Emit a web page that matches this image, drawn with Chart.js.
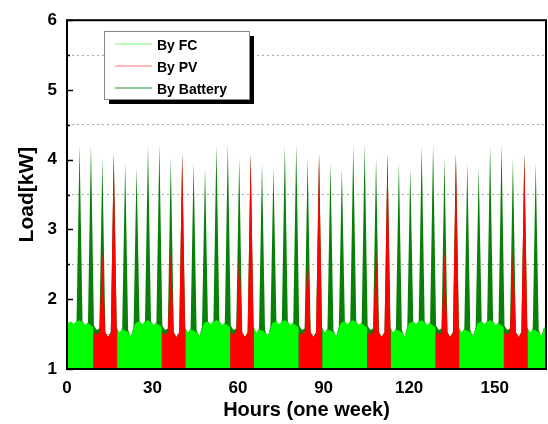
<!DOCTYPE html>
<html>
<head>
<meta charset="utf-8">
<script src="https://cdn.jsdelivr.net/npm/chart.js@4.4.1/dist/chart.umd.min.js"></script>
<style>
  html, body { margin: 0; padding: 0; background: #fff; }
</style>
</head>
<body>
<canvas id="chart" width="548" height="424"></canvas>
<script>
// Axis ticks
const xTicks = [0, 30, 60, 90, 120, 150];
const yTicks = [1, 2, 3, 4, 5, 6];
const seriesNames = ['By FC', 'By PV', 'By Battery'];

// The daily profile repeats over the week
const dayStarts = [0, 24, 48, 72, 96, 120, 144];

// FC output over one day (off while PV runs)
const fcHours = [0, 1.45, 2.4, 3.35, 4.4, 5.45, 6.4, 7.35, 8.4, 9.2, 9.2, 17.6, 17.6, 18.4, 19.35, 20.4, 21.45, 22.4, 23.35, 24];
const fcLoad  = [1.66, 1.68, 1.64, 1.68, 1.70, 1.67, 1.63, 1.66, 1.62, 1.60, 1, 1, 1.58, 1.52, 1.57, 1.55, 1.53, 1.47, 1.58, 1.66];

// PV output over one day
const pvHours = [9.2, 9.2, 9.6, 10.4, 11.35, 13.45, 14.4, 15.35, 17.45, 17.6, 17.6];
const pvLoad  = [1, 1.53, 1.52, 1.49, 1.53, 1.52, 1.46, 1.52, 1.55, 1.56, 1];

// Total demand between the peaks (battery covers the rest)
const baseHours = [1.45, 2.4, 3.35, 5.45, 6.4, 7.35, 9.45, 10.4, 11.35, 13.45, 14.4, 15.35, 17.45, 18.4, 19.35, 21.45, 22.4, 23.35];
const baseLoad  = [1.68, 1.62, 1.69, 1.68, 1.62, 1.67, 1.62, 1.56, 1.58, 1.53, 1.46, 1.53, 1.60, 1.51, 1.58, 1.56, 1.46, 1.61];

// Load peaks over the week
const peakHours = [4.4, 8.4, 12.4, 16.4, 20.4, 24.4, 28.4, 32.4, 36.4, 40.4, 44.4, 48.4,
                   52.4, 56.4, 60.4, 64.4, 68.4, 72.4, 76.4, 80.4, 84.4, 88.4, 92.4, 96.4,
                   100.4, 104.4, 108.4, 112.4, 116.4, 120.4, 124.4, 128.4, 132.4, 136.4, 140.4, 144.4,
                   148.4, 152.4, 156.4, 160.4, 164.4];
const peakLoad  = [4.21, 4.22, 4.03, 4.09, 3.96, 3.89, 4.21, 4.22, 4.03, 4.09, 3.96, 3.89,
                   4.21, 4.22, 4.03, 4.09, 3.96, 3.89, 4.21, 4.22, 4.03, 4.09, 3.96, 3.89,
                   4.21, 4.22, 4.03, 4.09, 3.96, 3.89, 4.21, 4.22, 4.03, 4.09, 3.96, 3.89,
                   4.21, 4.22, 4.03, 4.09, 3.96];
// part of each peak supplied by PV
const peakPV    = [null, null, 2.70, 4.09, null, null, null, null, 2.70, 4.09, null, null,
                   null, null, 2.70, 4.09, null, null, null, null, 2.70, 4.09, null, null,
                   null, null, 2.70, 4.09, null, null, null, null, 2.70, 4.09, null, null,
                   null, null, 2.70, 4.09, null];

const fillColors = ['#00ff00', '#ff0000', '#088008'];
const legendColors = ['#a4ffa4', '#ffa0a0', '#6cb46c'];

// build point lists
const byX = (a, b) => a.x - b.x;
const fcData = [], pvData = [], totalData = [];
dayStarts.forEach(d => {
    fcHours.forEach((h, i) => fcData.push({ x: d + h, y: fcLoad[i] }));
    pvHours.forEach((h, i) => pvData.push({ x: d + h, y: pvLoad[i] }));
    baseHours.forEach((h, i) => totalData.push({ x: d + h, y: baseLoad[i] }));
});
peakHours.forEach((h, i) => {
    totalData.push({ x: h, y: peakLoad[i] });
    if (peakPV[i] !== null) pvData.push({ x: h, y: peakPV[i] });
});
pvData.sort(byX);
totalData.sort(byX);

// frame + inward tick marks on the y axis
const frameAndTicks = {
    id: 'frameAndTicks',
    beforeDatasetsDraw(chart) {
        const { ctx, chartArea, scales } = chart;
        ctx.save();
        ctx.strokeStyle = '#000';
        ctx.lineWidth = 1.5;
        scales.y.ticks.forEach(t => {
            const py = Math.round(scales.y.getPixelForValue(t.value)) + 0.5;
            const len = yTicks.includes(t.value) ? 6 : 3;
            ctx.beginPath();
            ctx.moveTo(chartArea.left, py);
            ctx.lineTo(chartArea.left + len, py);
            ctx.stroke();
        });
        ctx.restore();
    },
    afterDatasetsDraw(chart) {
        const { ctx, chartArea } = chart;
        ctx.save();
        ctx.strokeStyle = '#000';
        ctx.lineWidth = 2;
        ctx.strokeRect(chartArea.left, chartArea.top, chartArea.right - chartArea.left, chartArea.bottom - chartArea.top);
        ctx.restore();
    }
};

// boxed legend with a drop shadow, inside the plot
const legendBox = {
    id: 'legendBox',
    afterDraw(chart) {
        const ctx = chart.ctx;
        const x = 104, y = 31, w = 145, h = 68;
        ctx.save();
        ctx.fillStyle = '#000';
        ctx.fillRect(x + 5, y + 5, w, h);
        ctx.fillStyle = '#fff';
        ctx.fillRect(x, y, w, h);
        ctx.strokeStyle = '#8a8a8a';
        ctx.lineWidth = 1;
        ctx.strokeRect(x + 0.5, y + 0.5, w, h);
        ctx.font = 'bold 14px "Liberation Sans", Arial, sans-serif';
        ctx.textBaseline = 'alphabetic';
        chart.data.datasets.forEach((ds, i) => {
            const ry = 44 + i * 22;
            ctx.strokeStyle = legendColors[i];
            ctx.lineWidth = 1.5;
            ctx.beginPath();
            ctx.moveTo(115, ry);
            ctx.lineTo(152, ry);
            ctx.stroke();
            ctx.fillStyle = '#000';
            ctx.fillText(ds.label, 157, ry + 5.5);
        });
        ctx.restore();
    }
};

Chart.defaults.font.family = '"Liberation Sans", Arial, sans-serif';

new Chart(document.getElementById('chart'), {
    type: 'line',
    data: {
        datasets: [
            { label: seriesNames[0], data: fcData },
            { label: seriesNames[1], data: pvData },
            { label: seriesNames[2], data: totalData }
        ].map((ds, i) => ({
            ...ds,
            backgroundColor: fillColors[i],
            borderColor: 'rgba(0,0,0,0)',
            borderWidth: 0,
            fill: 'origin',
            pointRadius: 0,
            tension: 0
        }))
    },
    options: {
        responsive: false,
        animation: false,
        layout: { padding: { top: 19, right: 2, left: 0, bottom: 0 } },
        plugins: { legend: { display: false }, tooltip: { enabled: false } },
        scales: {
            x: {
                type: 'linear', min: 0, max: 168,
                afterFit: s => { s.height = 55; },
                ticks: {
                    stepSize: 30, includeBounds: false, padding: 9, maxRotation: 0,
                    color: '#000', font: { size: 17, weight: 'bold' },
                    callback: v => xTicks.includes(v) ? v : ''
                },
                grid: { display: false, drawTicks: false },
                border: { display: false },
                title: {
                    display: true, text: 'Hours (one week)', color: '#000',
                    font: { size: 20, weight: 'bold' }, padding: { top: 0, bottom: 2 }
                }
            },
            y: {
                min: 1, max: 6,
                afterFit: s => { s.width = 67; },
                ticks: {
                    stepSize: 0.5, padding: 10, autoSkip: false,
                    color: '#000', font: { size: 17, weight: 'bold' },
                    callback: v => yTicks.includes(v) ? v : ''
                },
                grid: {
                    drawTicks: false, lineWidth: 1, borderDash: [2, 3],
                    color: c => (c.tick && !yTicks.includes(c.tick.value)) ? '#a8a8a8' : 'rgba(0,0,0,0)'
                },
                border: { display: false, dash: [2, 3] },
                title: {
                    display: true, text: 'Load[kW]', color: '#000',
                    font: { size: 21, weight: 'bold' }, padding: { top: 15, bottom: 0 }
                }
            }
        }
    },
    plugins: [frameAndTicks, legendBox]
});
</script>
</body>
</html>
